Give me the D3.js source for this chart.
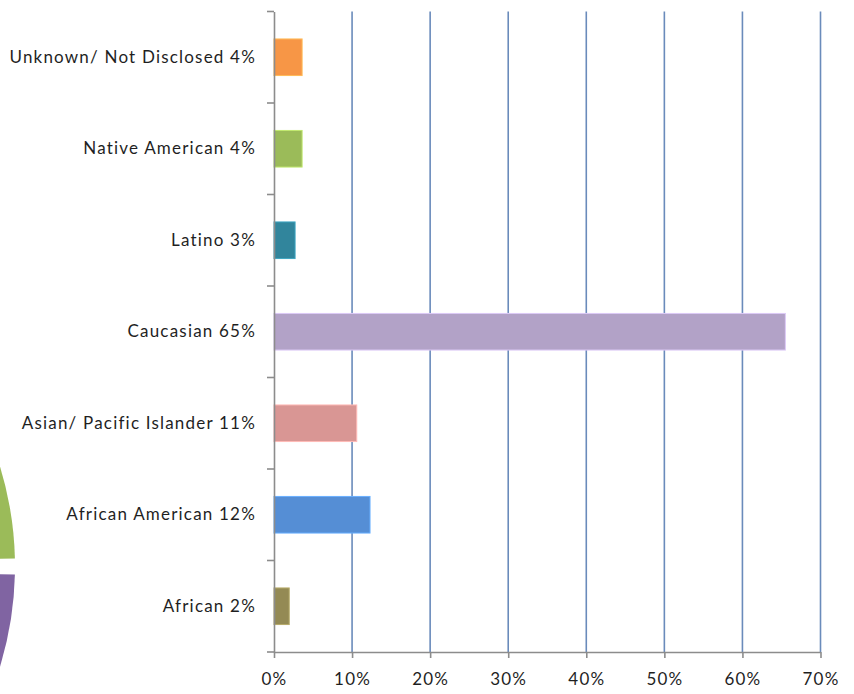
<!DOCTYPE html>
<html><head><meta charset="utf-8">
<script src="https://cdn.jsdelivr.net/npm/d3@7"></script>
<style>body{margin:0;background:#fff}svg{display:block}</style>
</head><body>
<script>
// Data (top to bottom)
const categories = ["Unknown/ Not Disclosed 4%","Native American 4%","Latino 3%","Caucasian 65%","Asian/ Pacific Islander 11%","African American 12%","African 2%"];
const values = [0.036, 0.036, 0.027, 0.655, 0.106, 0.123, 0.0195];
const colors = ["#f79646","#9bbb59","#31859c","#b2a2c7","#d99694","#558ed5","#948a54"];
const xTicks = [0,0.1,0.2,0.3,0.4,0.5,0.6,0.7];
// decorative pie edge at left (from adjacent graphic)
const decorSlices = [{start:0.3, end:Math.PI/2, color:"#9bbb59"},{start:Math.PI/2, end:Math.PI*0.85, color:"#8064a2"}];

const W=854,H=694;
const svg=d3.select("body").append("svg").attr("width",W).attr("height",H);
const x=d3.scaleLinear().domain([0,0.7]).range([274,820.5]);
const y=d3.scaleBand().domain(categories).range([11.5,652]).paddingInner(0.6).paddingOuter(0.3);
const font="Lato, 'Open Sans', sans-serif";

// decorative arcs
const R=341;
const arc=d3.arc().innerRadius(0).outerRadius(R).padAngle(16/R).padRadius(R);
svg.append("g").attr("transform","translate(-326,566.5)")
  .selectAll("path").data(decorSlices).join("path")
  .attr("d",d=>arc({startAngle:d.start,endAngle:d.end})).attr("fill",d=>d.color);

// gridlines
svg.append("g").selectAll("line").data(xTicks.slice(1)).join("line")
  .attr("x1",d=>x(d)).attr("x2",d=>x(d)).attr("y1",11.5).attr("y2",652)
  .attr("stroke","#6a8bbb").attr("stroke-width",1.6);

// bars
svg.append("g").selectAll("rect").data(categories).join("rect")
  .attr("x",x(0)).attr("y",d=>y(d)).attr("height",y.bandwidth())
  .attr("width",(d,i)=>x(values[i])-x(0))
  .attr("fill",(d,i)=>colors[i])
  .attr("stroke",(d,i)=>d3.color(colors[i]).brighter(0.6)).attr("stroke-width",1);

// y axis
const yb=d3.scaleBand().domain(categories).range([11.5,652]);
const yAxis=d3.axisLeft(y).tickSize(0).tickPadding(18);
const gy=svg.append("g").attr("transform",`translate(${x(0)},0)`).call(yAxis);
gy.select(".domain").attr("stroke","#8c8c8c").attr("stroke-width",1.6);
gy.selectAll("text").attr("font-family",font).attr("font-size",17).attr("letter-spacing","1.2px").attr("fill","#1f1f1f");
// category boundary ticks
const bounds=categories.map(c=>yb(c)).concat([652]);
svg.append("g").selectAll("line").data(bounds).join("line")
  .attr("x1",x(0)-7).attr("x2",x(0)).attr("y1",d=>d).attr("y2",d=>d)
  .attr("stroke","#8c8c8c").attr("stroke-width",1.6);

// x axis
const xAxis=d3.axisBottom(x).tickValues(xTicks).tickFormat(d3.format(".0%")).tickSize(6).tickPadding(15).tickSizeOuter(0);
const gx=svg.append("g").attr("transform","translate(0,652)").call(xAxis);
gx.select(".domain").attr("stroke","#8c8c8c").attr("stroke-width",1.6);
gx.selectAll(".tick line").attr("stroke","#8c8c8c").attr("stroke-width",1.6);
gx.selectAll("text").attr("font-family",font).attr("font-size",17).attr("letter-spacing","1.2px").attr("fill","#1f1f1f");
</script>
</body></html>
